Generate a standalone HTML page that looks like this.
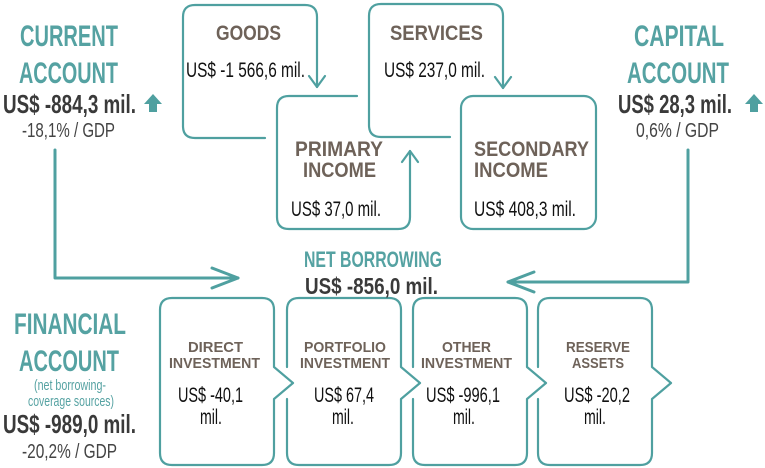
<!DOCTYPE html>
<html><head><meta charset="utf-8"><style>
html,body{margin:0;padding:0;background:#fff;width:765px;height:468px;overflow:hidden}
text{font-family:"Liberation Sans Narrow","Liberation Sans",sans-serif}
.t{fill:#55a2a2;font-weight:bold}
.b{fill:#6e6259;font-weight:bold}
.v{fill:#111}
.d{fill:#3a3a3a;font-weight:bold}
.g{fill:#444}
</style></head><body>
<svg width="765" height="468" viewBox="0 0 765 468" xmlns="http://www.w3.org/2000/svg">
<g fill="none" stroke="#4fa0a0" stroke-width="2.2" stroke-linecap="round" stroke-linejoin="round">
<path d="M265,138 H195 Q183,138 183,126 V17 Q183,5 195,5 H305 Q317,5 317,17 V87"/>
<path d="M309,76 L317,87 L325,76"/>
<path d="M450,137 H381 Q369,137 369,125 V16 Q369,4 381,4 H491 Q503,4 503,16 V88"/>
<path d="M495,77 L503,88 L511,77"/>
<path d="M357,96 H289 Q277,96 277,108 V217 Q277,229 289,229 H398 Q410,229 410,217 V151"/>
<path d="M402,162 L410,151 L418,162"/>
<rect x="461" y="96" width="135" height="133" rx="12"/>
<path d="M55,150 V278 H238" stroke-width="3"/>
<path d="M212,268 L238,278 L212,288" stroke-width="3"/>
<path d="M688,150 V282 H508" stroke-width="3"/>
<path d="M534,272 L508,282 L534,292" stroke-width="3"/>
<path d="M172,298 H262 Q274,298 274,310 V367 L293,383 L274,399 V453 Q274,465 262,465 H172 Q160,465 160,453 V310 Q160,298 172,298"/>
<path d="M299,298 H389 Q401,298 401,310 V367 L420,383 L401,399 V453 Q401,465 389,465 H299 Q287,465 287,453 V399 M287,367 V310 Q287,298 299,298"/>
<path d="M425,298 H515 Q527,298 527,310 V367 L546,383 L527,399 V453 Q527,465 515,465 H425 Q413,465 413,453 V399 M413,367 V310 Q413,298 425,298"/>
<path d="M550,298 H640 Q652,298 652,310 V367 L671,383 L652,399 V453 Q652,465 640,465 H550 Q538,465 538,453 V399 M538,367 V310 Q538,298 550,298"/>
</g>
<path d="M153,94 L162,104 H157 V112 H149 V104 H144 Z" fill="#4fa0a0"/>
<path d="M754,94 L763,104 H758 V112 H750 V104 H745 Z" fill="#4fa0a0"/>

<text class="t" x="20" y="46" font-size="30" textLength="98" lengthAdjust="spacingAndGlyphs">CURRENT</text>
<text class="t" x="19" y="83" font-size="30" textLength="99" lengthAdjust="spacingAndGlyphs">ACCOUNT</text>
<text class="d" x="3" y="113" font-size="26" textLength="133" lengthAdjust="spacingAndGlyphs">US$ -884,3 mil.</text>
<text class="g" x="22" y="137" font-size="20" textLength="93" lengthAdjust="spacingAndGlyphs">-18,1% / GDP</text>

<text class="t" x="634" y="46" font-size="30" textLength="90" lengthAdjust="spacingAndGlyphs">CAPITAL</text>
<text class="t" x="627" y="83" font-size="30" textLength="102" lengthAdjust="spacingAndGlyphs">ACCOUNT</text>
<text class="d" x="618" y="113" font-size="26" textLength="114" lengthAdjust="spacingAndGlyphs">US$ 28,3 mil.</text>
<text class="g" x="636" y="137" font-size="20" textLength="83" lengthAdjust="spacingAndGlyphs">0,6% / GDP</text>

<text class="t" x="14" y="334" font-size="30" textLength="112" lengthAdjust="spacingAndGlyphs">FINANCIAL</text>
<text class="t" x="19" y="371" font-size="30" textLength="100" lengthAdjust="spacingAndGlyphs">ACCOUNT</text>
<text fill="#55a2a2" x="34" y="390" font-size="15" textLength="72" lengthAdjust="spacingAndGlyphs">(net borrowing-</text>
<text fill="#55a2a2" x="28" y="406" font-size="15" textLength="86" lengthAdjust="spacingAndGlyphs">coverage sources)</text>
<text class="d" x="3" y="433" font-size="26" textLength="133" lengthAdjust="spacingAndGlyphs">US$ -989,0 mil.</text>
<text class="g" x="22" y="458" font-size="20" textLength="95" lengthAdjust="spacingAndGlyphs">-20,2% / GDP</text>

<text class="t" x="304" y="267" font-size="22" textLength="138" lengthAdjust="spacingAndGlyphs">NET BORROWING</text>
<text class="d" x="305" y="294" font-size="23" textLength="133" lengthAdjust="spacingAndGlyphs">US$ -856,0 mil.</text>

<text class="b" x="216" y="40" font-size="21" textLength="65" lengthAdjust="spacingAndGlyphs">GOODS</text>
<text class="v" x="186" y="77" font-size="21" textLength="119" lengthAdjust="spacingAndGlyphs">US$ -1 566,6 mil.</text>
<text class="b" x="390" y="40" font-size="21" textLength="93" lengthAdjust="spacingAndGlyphs">SERVICES</text>
<text class="v" x="384" y="77" font-size="21" textLength="101" lengthAdjust="spacingAndGlyphs">US$ 237,0 mil.</text>
<text class="b" x="295" y="156" font-size="21" textLength="88" lengthAdjust="spacingAndGlyphs">PRIMARY</text>
<text class="b" x="303" y="177" font-size="21" textLength="73" lengthAdjust="spacingAndGlyphs">INCOME</text>
<text class="v" x="291" y="216" font-size="21" textLength="90" lengthAdjust="spacingAndGlyphs">US$ 37,0 mil.</text>
<text class="b" x="474" y="156" font-size="21" textLength="115" lengthAdjust="spacingAndGlyphs">SECONDARY</text>
<text class="b" x="474" y="177" font-size="21" textLength="74" lengthAdjust="spacingAndGlyphs">INCOME</text>
<text class="v" x="474" y="216" font-size="21" textLength="102" lengthAdjust="spacingAndGlyphs">US$ 408,3 mil.</text>

<g font-size="15">
<text class="b" x="188" y="352" textLength="55" lengthAdjust="spacingAndGlyphs">DIRECT</text>
<text class="b" x="169" y="368" textLength="91" lengthAdjust="spacingAndGlyphs">INVESTMENT</text>
<text class="b" x="304" y="352" textLength="82" lengthAdjust="spacingAndGlyphs">PORTFOLIO</text>
<text class="b" x="300" y="368" textLength="90" lengthAdjust="spacingAndGlyphs">INVESTMENT</text>
<text class="b" x="442" y="352" textLength="49" lengthAdjust="spacingAndGlyphs">OTHER</text>
<text class="b" x="421" y="368" textLength="91" lengthAdjust="spacingAndGlyphs">INVESTMENT</text>
<text class="b" x="566" y="352" textLength="64" lengthAdjust="spacingAndGlyphs">RESERVE</text>
<text class="b" x="572" y="368" textLength="52" lengthAdjust="spacingAndGlyphs">ASSETS</text>
</g>
<g font-size="21">
<text class="v" x="178" y="402" textLength="65" lengthAdjust="spacingAndGlyphs">US$ -40,1</text>
<text class="v" x="200" y="424" textLength="22" lengthAdjust="spacingAndGlyphs">mil.</text>
<text class="v" x="314" y="402" textLength="60" lengthAdjust="spacingAndGlyphs">US$ 67,4</text>
<text class="v" x="332" y="424" textLength="22" lengthAdjust="spacingAndGlyphs">mil.</text>
<text class="v" x="426" y="402" textLength="74" lengthAdjust="spacingAndGlyphs">US$ -996,1</text>
<text class="v" x="453" y="424" textLength="22" lengthAdjust="spacingAndGlyphs">mil.</text>
<text class="v" x="564" y="402" textLength="66" lengthAdjust="spacingAndGlyphs">US$ -20,2</text>
<text class="v" x="584" y="424" textLength="22" lengthAdjust="spacingAndGlyphs">mil.</text>
</g>
</svg>
</body></html>
